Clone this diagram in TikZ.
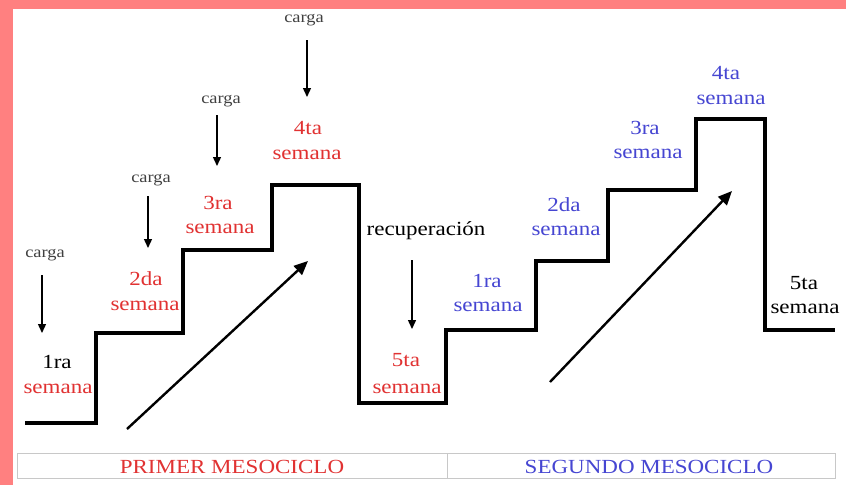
\documentclass[tikz,border=0pt]{standalone}
\usepackage{fontspec}
\setmainfont{Liberation Serif}[FakeStretch=1.15]
\usetikzlibrary{arrows.meta}
\definecolor{frame}{RGB}{255,128,128}
\definecolor{wred}{RGB}{225,50,50}
\definecolor{wblue}{RGB}{70,70,210}
\definecolor{tline}{RGB}{200,200,200}
\tikzset{
  lab/.style={inner sep=0pt,font=\fontsize{20}{22}\selectfont},
  red/.style={lab,text=wred},
  blue/.style={lab,text=wblue},
  black/.style={lab,text=black},
  cargalab/.style={inner sep=0pt,font=\fontsize{16}{18}\selectfont,text=black!75},
  loadarrow/.style={line width=1.4pt,-{Triangle[length=9pt,width=8pt]}},
  stairs/.style={line width=4pt,line join=miter,line cap=butt},
  trend/.style={line width=2.4pt,-{Triangle[length=14pt,width=12pt]}},
  tbl/.style={draw=tline,line width=0.8pt},
  tabtext/.style={inner sep=0pt,font=\fontsize{20}{22}\selectfont}
}
\begin{document}
\begin{tikzpicture}[x=1pt,y=-1pt]
\useasboundingbox (0,0) rectangle (846,485);
\fill[frame] (0,0) rectangle (846,485);
\fill[white] (13,8.5) rectangle (846,485);

% staircase
\draw[stairs] (25,423) -- (96,423) -- (96,333) -- (183,333) -- (183,250) -- (272,250) -- (272,185) -- (359,185) -- (359,403) -- (446,403) -- (446,330) -- (536,330) -- (536,261) -- (608,261) -- (608,190) -- (696,190) -- (696,119) -- (765,119) -- (765,330) -- (835,330);

% trend arrows
\coordinate (t1s) at (127,429);
\coordinate (t1e) at (308,261);
\coordinate (t2s) at (550,382);
\coordinate (t2e) at (732,191);
\draw[trend] (t1s) -- (t1e);
\draw[trend] (t2s) -- (t2e);

% carga labels and arrows
\node[cargalab] (c1) at (45,255) {carga};
\node[cargalab] (c2) at (151,180) {carga};
\node[cargalab] (c3) at (221,101) {carga};
\node[cargalab] (c4) at (304,20) {carga};
\coordinate (c1e) at (42,333);
\coordinate (c2e) at (148,248);
\coordinate (c3e) at (217,166);
\coordinate (c4e) at (307,97);
\draw[loadarrow] (c1.south -| c1e) ++(0,14) -- (c1e);
\draw[loadarrow] (c2.south -| c2e) ++(0,10) -- (c2e);
\draw[loadarrow] (c3.south -| c3e) ++(0,8) -- (c3e);
\draw[loadarrow] (c4.south -| c4e) ++(0,14) -- (c4e);

% first mesocycle
\node[black] (w1n) at (57,362) {1ra};
\node[red] (w1s) at (58,389) {semana};
\node[red] (w2n) at (146,279) {2da};
\node[red] (w2s) at (145,306) {semana};
\node[red] (w3n) at (218,203) {3ra};
\node[red] (w3s) at (220,229) {semana};
\node[red] (w4n) at (308,128) {4ta};
\node[red] (w4s) at (307,155) {semana};
\node[black] (rec) at (426,231) {recuperación};
\coordinate (rece) at (412,329);
\draw[loadarrow] (rec.south -| rece) ++(0,20) -- (rece);
\node[red] (w5n) at (406,360) {5ta};
\node[red] (w5s) at (407,389) {semana};

% second mesocycle
\node[blue] (v1n) at (487,281) {1ra};
\node[blue] (v1s) at (488,307) {semana};
\node[blue] (v2n) at (564,205) {2da};
\node[blue] (v2s) at (566,231) {semana};
\node[blue] (v3n) at (645,128) {3ra};
\node[blue] (v3s) at (648,154) {semana};
\node[blue] (v4n) at (726,73) {4ta};
\node[blue] (v4s) at (731,100) {semana};
\node[black] (v5n) at (804,283) {5ta};
\node[black] (v5s) at (805,309) {semana};

% table
\draw[tbl] (17,453) rectangle (835,478);
\draw[tbl] (447,453) -- (447,478);
\node[tabtext,text=wred] (m1) at (232,467) {PRIMER MESOCICLO};
\node[tabtext,text=wblue] (m2) at (649,467) {SEGUNDO MESOCICLO};
\end{tikzpicture}
\end{document}
